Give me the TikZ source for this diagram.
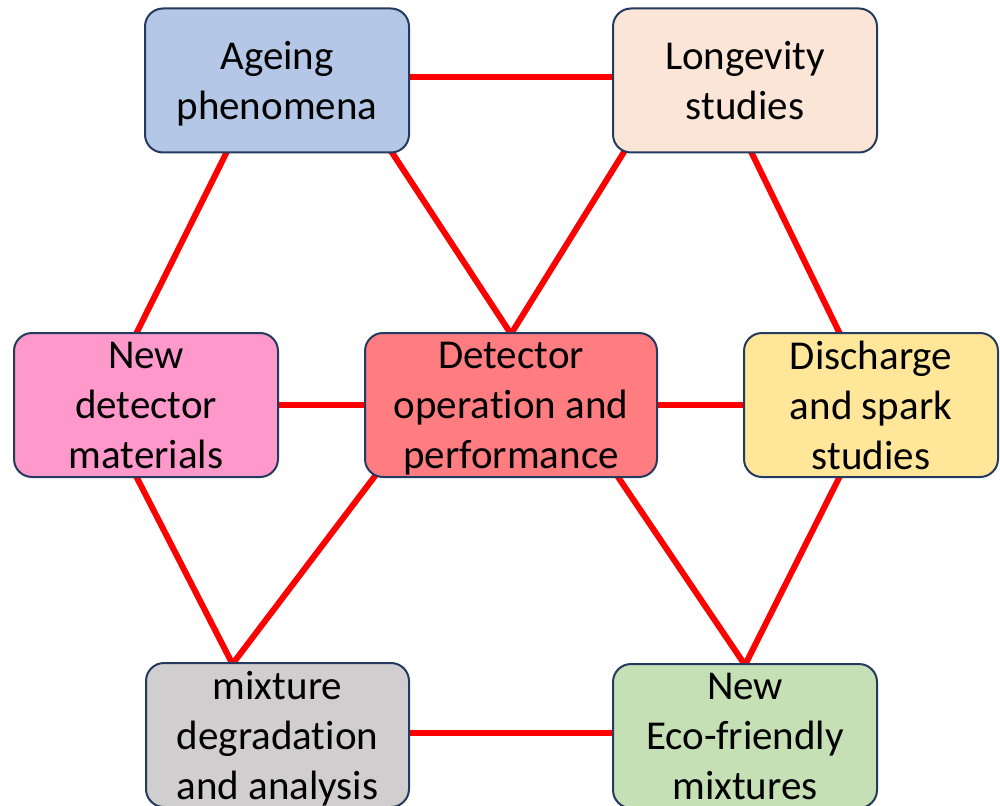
\documentclass[tikz,border=0pt]{standalone}
\usepackage{fontspec}
\setmainfont{Carlito}[Ligatures=NoCommon]
\usetikzlibrary{backgrounds}
\definecolor{cage}{HTML}{B4C7E7}
\definecolor{clon}{HTML}{FBE5D6}
\definecolor{cndm}{HTML}{FF99CC}
\definecolor{cdop}{HTML}{FF7C80}
\definecolor{cdis}{HTML}{FFE699}
\definecolor{cmix}{HTML}{D0CECE}
\definecolor{ceco}{HTML}{C5E0B4}
\definecolor{cbord}{HTML}{243A5E}
\definecolor{cline}{HTML}{FF0000}
\tikzset{
  box/.style={draw=cbord, line width=2pt, rounded corners=18pt, inner sep=0pt,
    minimum height=144pt, align=center, text depth=0pt,
    font=\fontsize{41pt}{50pt}\selectfont},
  link/.style={draw=cline, line width=6pt}
}
\begin{document}
\begin{tikzpicture}[x=1pt,y=-1pt]
\useasboundingbox (0,0) rectangle (1000,805);
\node[box, fill=cage, minimum width=264pt] (age) at (277,80.5) {Ageing\\phenomena};
\node[box, fill=clon, minimum width=264pt] (lon) at (745,80.5) {Longevity\\studies};
\node[box, fill=cndm, minimum width=264pt] (ndm) at (146,405) {New\\detector\\materials};
\node[box, fill=cdop, minimum width=292pt] (dop) at (511,405) {Detector\\operation and\\performance};
\node[box, fill=cdis, minimum width=254pt] (dis) at (871,405) {Discharge\\and spark\\studies};
\node[box, fill=cmix, minimum width=263pt] (mix) at (277.5,735) {mixture\\degradation\\and analysis};
\node[box, fill=ceco, minimum width=264pt] (eco) at (745,736) {New\\Eco-friendly\\mixtures};
\begin{scope}[on background layer]
\draw[link] ([yshift=3.5pt]age.east) -- ([yshift=3.5pt]lon.west);
\draw[link] ([xshift=-49pt,yshift=4pt]age.south) -- ([xshift=-10pt,yshift=-2pt]ndm.north);
\draw[link] ([xshift=113pt,yshift=4pt]age.south) -- ([yshift=-2pt]dop.north);
\draw[link] ([xshift=-117pt,yshift=8pt]lon.south) -- ([yshift=-2pt]dop.north);
\draw[link] ([xshift=5pt,yshift=4pt]lon.south) -- ([xshift=-31pt,yshift=-2pt]dis.north);
\draw[link] (ndm.east) -- (dop.west);
\draw[link] (dop.east) -- (dis.west);
\draw[link] ([xshift=-10pt,yshift=2pt]ndm.south) -- ([xshift=-45pt,yshift=-2pt]mix.north);
\draw[link] ([xshift=-133pt,yshift=6pt]dop.south) -- ([xshift=-45pt,yshift=-2pt]mix.north);
\draw[link] ([xshift=105pt,yshift=4pt]dop.south) -- ([yshift=-2pt]eco.north);
\draw[link] ([xshift=-31pt,yshift=2pt]dis.south) -- ([yshift=-2pt]eco.north);
\draw[link] ([yshift=2pt]mix.east) -- ([yshift=3pt]eco.west);
\end{scope}
\end{tikzpicture}
\end{document}
